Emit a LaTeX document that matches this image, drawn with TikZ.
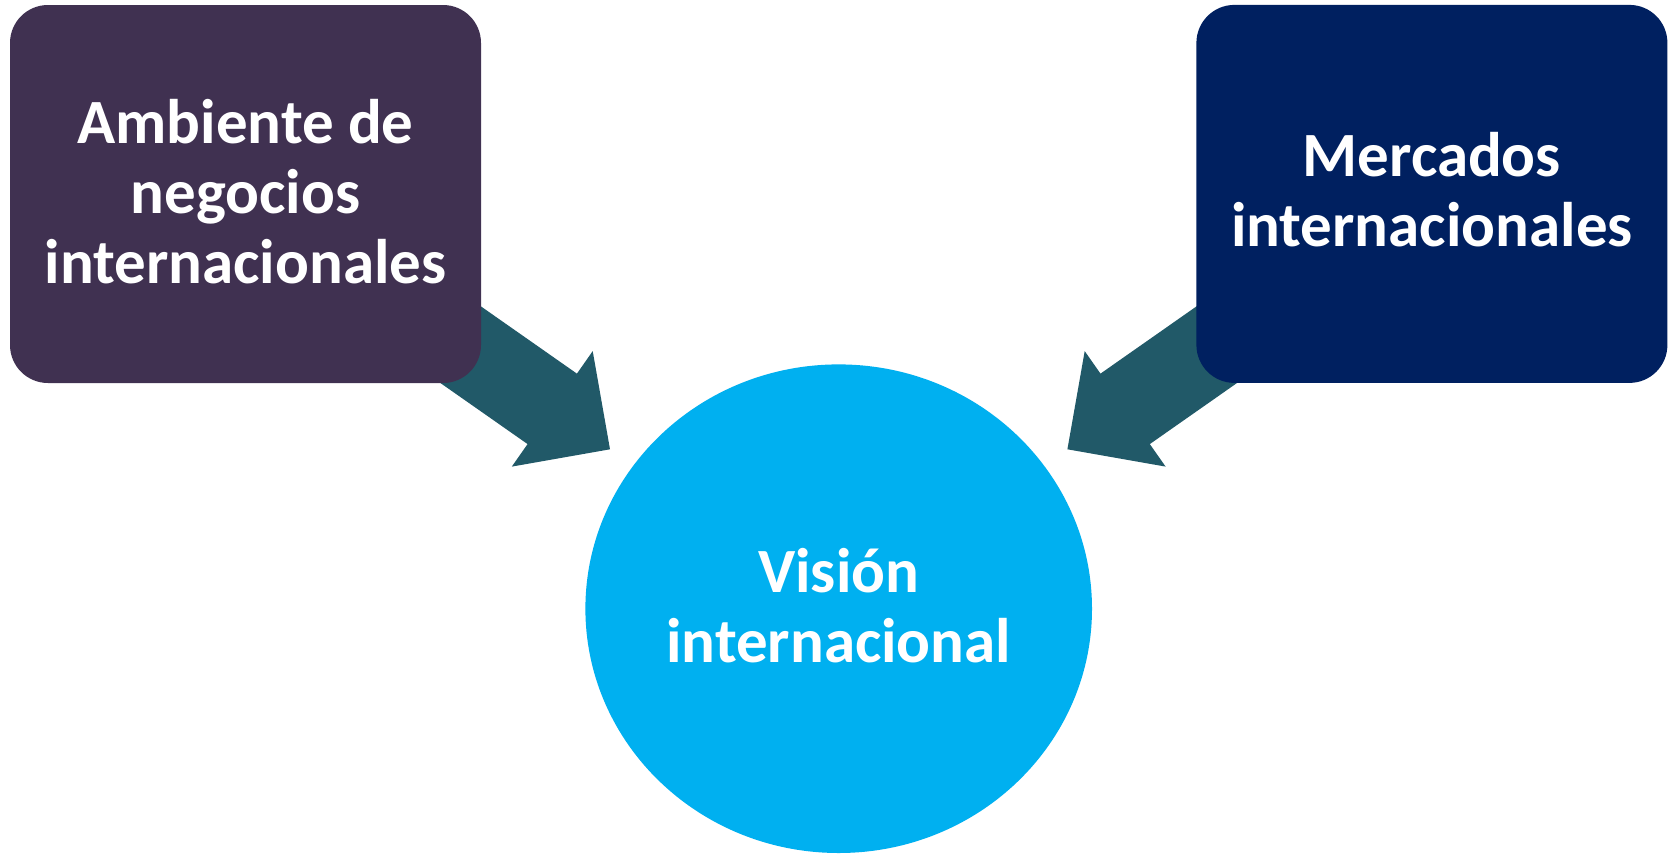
\documentclass[tikz,border=0pt]{standalone}
\usepackage{fontspec}
\setmainfont{Carlito}
\usetikzlibrary{shapes.geometric,calc,backgrounds}
\definecolor{boxpurple}{HTML}{403151}
\definecolor{navyblue}{HTML}{002060}
\definecolor{vcyan}{HTML}{00B0F0}
\definecolor{arrowteal}{HTML}{215968}
\begin{document}
\begin{tikzpicture}[x=1pt,y=-1pt,
  card/.style={draw=none, rounded corners=38pt, minimum width=471pt, minimum height=378pt, inner sep=0pt},
  lbl/.style={text=white, font=\bfseries\fontsize{63}{70}\selectfont, align=center, inner sep=0pt},
  blockarrow/.style={fill=arrowteal, draw=none}]
\useasboundingbox (0,0) rectangle (1671,854);
% nodes
\node[card, fill=boxpurple] (amb) at (245.5,194) {};
\node[card, fill=navyblue] (mer) at (1431.9,193.9) {};
\node[ellipse, fill=vcyan, draw=none, minimum width=506.6pt, minimum height=488.6pt, inner sep=0pt] (vis) at (838.7,608.7) {};
\node[lbl] (ambt) at ($(amb.center)+(0,-2)$) {Ambiente de\\negocios\\internacionales};
\node[lbl] (mert) at ($(mer.center)+(0,-4)$) {Mercados\\internacionales};
\node[lbl] (vist) at ($(vis.center)+(0,-3)$) {Visión\\internacional};
% block arrows behind the boxes
\begin{scope}[on background layer]
\fill[white] (0,0) rectangle (1671,854);
% left arrow
\coordinate (aS) at (364.3,277.2);
\coordinate (aT) at (610,449.3);
\coordinate (aH) at ($(aT)!70.5pt!(aS)$);
\coordinate (aC1) at ($(aH)!70.5pt!90:(aT)$);
\coordinate (aC2) at ($(aH)!70.5pt!-90:(aT)$);
\coordinate (aN1) at ($(aH)!43pt!90:(aT)$);
\coordinate (aN2) at ($(aH)!43pt!-90:(aT)$);
\coordinate (aB1) at ($(aS)!43pt!90:(aT)$);
\coordinate (aB2) at ($(aS)!43pt!-90:(aT)$);
\fill[blockarrow] (aB1) -- (aN1) -- (aC1) -- (aT) -- (aC2) -- (aN2) -- (aB2) -- cycle;
% right arrow
\coordinate (bS) at (1313.1,277.2);
\coordinate (bT) at (1067.4,449.3);
\coordinate (bH) at ($(bT)!70.5pt!(bS)$);
\coordinate (bC1) at ($(bH)!70.5pt!90:(bT)$);
\coordinate (bC2) at ($(bH)!70.5pt!-90:(bT)$);
\coordinate (bN1) at ($(bH)!43pt!90:(bT)$);
\coordinate (bN2) at ($(bH)!43pt!-90:(bT)$);
\coordinate (bB1) at ($(bS)!43pt!90:(bT)$);
\coordinate (bB2) at ($(bS)!43pt!-90:(bT)$);
\fill[blockarrow] (bB1) -- (bN1) -- (bC1) -- (bT) -- (bC2) -- (bN2) -- (bB2) -- cycle;
\end{scope}
\end{tikzpicture}
\end{document}
